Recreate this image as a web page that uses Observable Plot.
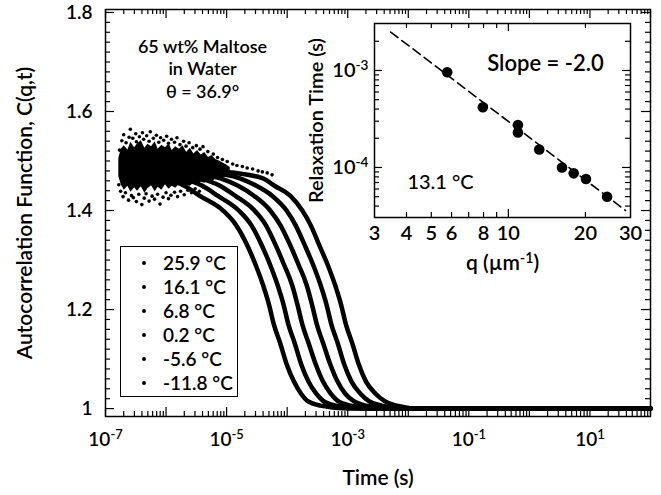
<!DOCTYPE html>
<html>
<head>
<meta charset="utf-8">
<script src="https://cdn.jsdelivr.net/npm/d3@7"></script>
<script src="https://cdn.jsdelivr.net/npm/@observablehq/plot@0.6"></script>
<style>
  html,body{margin:0;padding:0;background:#fff;}
  #chart{position:relative;width:661px;height:495px;overflow:hidden;font-family:Lato,"Open Sans",sans-serif;color:#000;background:#fff;}
  #chart > svg{position:absolute;}
  #legend{position:absolute;left:120px;top:246px;width:118px;height:151px;border:1.5px solid #000;box-sizing:border-box;background:#fff;font-size:19px;font-weight:600;}
  #legend .row{position:absolute;left:0;height:22px;line-height:22px;white-space:nowrap;}
  #legend .dot{position:absolute;left:21px;top:9px;width:4px;height:4px;border-radius:50%;background:#000;}
  #legend .lab{position:absolute;left:42px;top:0;}
</style>
</head>
<body>
<div id="chart"></div>
<script>
// ---------------- data ----------------
const seriesNames = ["25.9 °C", "16.1 °C", "6.8 °C", "0.2 °C", "-5.6 °C", "-11.8 °C"];

// C(q,t) levels at which each curve was read (last entry: end of the record at 100 s)
const levelC = [1.478, 1.465, 1.45, 1.43, 1.40, 1.37, 1.33, 1.29, 1.25, 1.21, 1.17, 1.13, 1.09, 1.055, 1.03, 1.015, 1.006, 1.0, 1.0];

// log10(time / s) at which each series passes the levels above
const logT_25_9  = [-6.70, -6.05, -5.70, -5.45, -5.06, -4.84, -4.66, -4.52, -4.40, -4.30, -4.22, -4.11, -4.01, -3.89, -3.77, -3.66, -3.45, -3.00, 2];
const logT_16_1  = [-6.36, -5.73, -5.40, -5.15, -4.80, -4.59, -4.42, -4.28, -4.16, -4.06, -3.98, -3.87, -3.77, -3.65, -3.52, -3.40, -3.20, -2.76, 2];
const logT_6_8   = [-6.03, -5.42, -5.11, -4.86, -4.54, -4.35, -4.19, -4.05, -3.92, -3.83, -3.75, -3.64, -3.53, -3.41, -3.28, -3.16, -2.95, -2.53, 2];
const logT_0_2   = [-5.69, -5.10, -4.81, -4.55, -4.28, -4.11, -3.95, -3.81, -3.68, -3.59, -3.51, -3.40, -3.29, -3.17, -3.04, -2.90, -2.70, -2.29, 2];
const logT_m5_6  = [-5.35, -4.78, -4.51, -4.25, -4.01, -3.86, -3.71, -3.57, -3.45, -3.35, -3.27, -3.16, -3.06, -2.94, -2.79, -2.65, -2.44, -2.05, 2];
const logT_m11_8 = [-5.01, -4.40, -4.21, -3.95, -3.75, -3.61, -3.47, -3.33, -3.21, -3.11, -3.03, -2.92, -2.82, -2.70, -2.54, -2.39, -2.19, -1.81, 2];

// early-time overlapping noisy cloud (all series): ragged envelope of its dense core
const cloudLogT = [-6.78,-6.74,-6.69,-6.63,-6.58,-6.52,-6.47,-6.41,-6.35,-6.30,-6.24,-6.18,-6.13,-6.07,-6.01,-5.95,-5.90,-5.84,-5.78,-5.72,-5.66,-5.60,-5.54,-5.48,-5.42,-5.36,-5.30,-5.24,-5.18,-5.12,-5.06,-5.00,-4.94];
const cloudHi   = [1.505,1.524,1.531,1.522,1.538,1.527,1.535,1.541,1.526,1.534,1.529,1.539,1.524,1.532,1.527,1.535,1.521,1.529,1.524,1.531,1.517,1.526,1.514,1.521,1.512,1.517,1.507,1.511,1.503,1.500,1.496,1.492,1.487];
const cloudLo   = [1.468,1.452,1.441,1.449,1.437,1.446,1.439,1.448,1.435,1.444,1.450,1.438,1.447,1.441,1.452,1.443,1.449,1.445,1.453,1.446,1.451,1.449,1.455,1.452,1.457,1.455,1.460,1.458,1.463,1.462,1.466,1.467,1.470];

// scattered points around the noisy region
const scatterLogT = [
  -6.77,-6.73,-6.70,-6.66,-6.61,-6.59,-6.55,-6.50,-6.49,-6.44,-6.39,-6.37,-6.32,-6.28,-6.26,-6.21,-6.16,-6.12,-6.09,-6.04,-5.99,-5.96,-5.91,-5.86,-5.82,-5.77,-5.71,-5.67,-5.62,-5.56,-5.50,-5.44,-5.39,-5.31,-5.22,-5.15,-5.07,-4.99,-4.90,-4.83,-4.74,-4.66,-4.57,-4.48,-4.41,-4.33,-4.25,
  -6.78,-6.75,-6.71,-6.67,-6.62,-6.57,-6.54,-6.49,-6.45,-6.40,-6.36,-6.33,-6.28,-6.23,-6.19,-6.14,-6.10,-6.05,-6.00,-5.96,-5.92,-5.86,-5.81,-5.76,-5.70,-5.64,-5.58,-5.52,-5.45,-5.38,-5.31];
const scatterC = [
  1.522,1.541,1.553,1.537,1.548,1.564,1.546,1.555,1.539,1.549,1.557,1.544,1.551,1.540,1.559,1.546,1.552,1.538,1.547,1.542,1.550,1.536,1.544,1.538,1.547,1.533,1.540,1.530,1.537,1.527,1.531,1.524,1.529,1.519,1.514,1.507,1.503,1.499,1.494,1.491,1.489,1.486,1.484,1.480,1.478,1.476,1.472,
  1.452,1.439,1.428,1.436,1.421,1.430,1.426,1.418,1.433,1.412,1.425,1.434,1.419,1.429,1.423,1.433,1.413,1.427,1.436,1.424,1.431,1.437,1.428,1.439,1.432,1.441,1.436,1.444,1.439,1.447,1.444];

// inset: relaxation time vs q at 13.1 °C
const qValues   = [5.77, 7.95, 10.9, 10.9, 13.2, 16.2, 18.0, 20.1, 24.3];
const tauValues = [9.6e-4, 4.17e-4, 2.74e-4, 2.30e-4, 1.53e-4, 1.0e-4, 8.7e-5, 7.6e-5, 5.0e-5];
const fitQ   = [3.47, 28.7];
const fitTau = [2.49e-3, 3.6e-5];

// tick labels
const xLabelTicks = [1e-7, 1e-5, 1e-3, 1e-1, 1e1];
const yLabelTicks = [1, 1.2, 1.4, 1.6, 1.8];
const qLabelTicks = [3, 4, 5, 6, 8, 10, 20, 30];
const tauLabelTicks = [1e-4, 1e-3];

// ---------------- build ----------------
const logTimes = [logT_25_9, logT_16_1, logT_6_8, logT_0_2, logT_m5_6, logT_m11_8];
const curveRows = seriesNames.flatMap((name, i) => logTimes[i].map((lt, j) => ({series: name, t: Math.pow(10, lt), c: levelC[j]})));
const cloudRows = cloudLogT.map((lt, i) => ({t: Math.pow(10, lt), lo: cloudLo[i], hi: cloudHi[i]}));
const scatterRows = scatterLogT.map((lt, i) => ({t: Math.pow(10, lt), c: scatterC[i]}));
const pointRows = qValues.map((q, i) => ({q, tau: tauValues[i]}));
const fitRows = fitQ.map((q, i) => ({q, tau: fitTau[i]}));

const xMajor = d3.range(-7, 3).map(e => Math.pow(10, e));
const xMinor = d3.range(-7, 2).flatMap(e => d3.range(2, 10).map(m => m * Math.pow(10, e)));
const yMajor = yLabelTicks;
const yMinor = d3.range(51, 90).filter(k => k % 10 !== 0).map(k => k / 50);

const qMajor = [10];
const qMinor = [4, 5, 6, 7, 8, 9, 20];
const tauMajor = [1e-4, 1e-3];
const tauMinor = [4e-5,5e-5,6e-5,7e-5,8e-5,9e-5,2e-4,3e-4,4e-4,5e-4,6e-4,7e-4,8e-4,9e-4,2e-3];

const font = "Lato, 'Open Sans', sans-serif";
const expFmt = d => "10^" + Math.round(Math.log10(d));

function ticksAround(FW, FH, xs, ys, len) {
  const o = {stroke: "#000", strokeWidth: 1.2};
  return [
    Plot.tickX(xs, {x: d => d, insetTop: FH - len, ...o}),
    Plot.tickX(xs, {x: d => d, insetBottom: FH - len, ...o}),
    Plot.tickY(ys, {y: d => d, insetRight: FW - len, ...o}),
    Plot.tickY(ys, {y: d => d, insetLeft: FW - len, ...o})
  ];
}

const FW = 661 - 105 - 11, FH = 495 - 9 - 79;
const main = Plot.plot({
  width: 661, height: 495,
  marginLeft: 105, marginRight: 11, marginTop: 9, marginBottom: 79,
  style: {fontFamily: font, fontSize: "19px", fontWeight: 600, background: "transparent", overflow: "visible", color: "#000"},
  x: {type: "log", domain: [1e-7, 1e2], ticks: xLabelTicks, tickFormat: expFmt, tickSize: 0, tickPadding: 16, label: null},
  y: {domain: [0.984, 1.806], ticks: yLabelTicks, tickFormat: d => d === 1 ? "1" : d.toFixed(1), tickSize: 0, tickPadding: 13, label: null},
  marks: [
    Plot.areaY(cloudRows, {x: "t", y1: "lo", y2: "hi", fill: "#000", curve: "linear"}),
    Plot.dot(scatterRows, {x: "t", y: "c", r: 1.8, fill: "#000"}),
    Plot.line(curveRows, {x: "t", y: "c", z: "series", stroke: "#000", strokeWidth: 4.5, curve: "monotone-x"}),
    ...ticksAround(FW, FH, xMajor, yMajor, 9),
    ...ticksAround(FW, FH, xMinor, yMinor, 5),
    Plot.frame({stroke: "#000", strokeWidth: 1.5}),
    Plot.text(["65 wt% Maltose\nin Water\nθ = 36.9°"], {text: d => d, frameAnchor: "top-left", textAnchor: "middle", lineAnchor: "middle", dx: 97, dy: 58.5, fontSize: 18, fontWeight: 600, lineHeight: 1.25, fill: "#000"}),
    Plot.text(["Time (s)"], {text: d => d, frameAnchor: "bottom", textAnchor: "middle", lineAnchor: "middle", dy: 62, fontSize: 21, fontWeight: 600, fill: "#000"}),
    Plot.text(["Autocorrelation Function, C(q,t)"], {text: d => d, frameAnchor: "left", textAnchor: "middle", lineAnchor: "middle", dx: -80, rotate: -90, fontSize: 21, fontWeight: 600, fill: "#000"})
  ]
});
main.style.left = "0px"; main.style.top = "0px";

const IW = 350, IH = 265, IL = 84, IR = 10, IT = 10, IB = 61;
const IFW = IW - IL - IR, IFH = IH - IT - IB;
const inset = Plot.plot({
  width: IW, height: IH,
  marginLeft: IL, marginRight: IR, marginTop: IT, marginBottom: IB,
  style: {fontFamily: font, fontSize: "20px", fontWeight: 600, background: "transparent", overflow: "visible", color: "#000"},
  x: {type: "log", domain: [3, 30], ticks: qLabelTicks, tickFormat: d => String(d), tickSize: 0, tickPadding: 8, label: null},
  y: {type: "log", domain: [3.05e-5, 3.05e-3], ticks: tauLabelTicks, tickFormat: expFmt, tickSize: 0, tickPadding: 6, label: null},
  marks: [
    Plot.line(fitRows, {x: "q", y: "tau", stroke: "#000", strokeWidth: 1.6, strokeDasharray: "9,5"}),
    Plot.dot(pointRows, {x: "q", y: "tau", r: 5.3, fill: "#000"}),
    ...ticksAround(IFW, IFH, qMajor, tauMajor, 8),
    ...ticksAround(IFW, IFH, qMinor, tauMinor, 5),
    Plot.frame({stroke: "#000", strokeWidth: 1.5}),
    Plot.text(["Slope = -2.0"], {text: d => d, frameAnchor: "top-left", textAnchor: "middle", lineAnchor: "middle", dx: 171, dy: 40, fontSize: 22, fontWeight: 600, fill: "#000"}),
    Plot.text(["13.1 °C"], {text: d => d, frameAnchor: "top-left", textAnchor: "middle", lineAnchor: "middle", dx: 66, dy: 159, fontSize: 20, fontWeight: 500, fill: "#000"}),
    Plot.text(["q (µm^-1)"], {text: d => d, frameAnchor: "bottom", textAnchor: "middle", lineAnchor: "middle", dy: 46, fontSize: 21, fontWeight: 600, fill: "#000"}),
    Plot.text(["Relaxation Time (s)"], {text: d => d, frameAnchor: "left", textAnchor: "middle", lineAnchor: "middle", dx: -58, rotate: -90, fontSize: 20, fontWeight: 600, fill: "#000"})
  ]
});
inset.style.left = "290px"; inset.style.top = "13px";

// superscripts: "base^exp rest"
function supify(svg) {
  const NS = "http://www.w3.org/2000/svg";
  svg.querySelectorAll("text").forEach(t => {
    if (t.querySelector("tspan")) return;
    const m = (t.textContent || "").match(/^(.*?)\^(-?\d+)(.*)$/);
    if (!m) return;
    t.textContent = m[1];
    const sup = document.createElementNS(NS, "tspan");
    sup.setAttribute("dy", "-7");
    sup.setAttribute("font-size", "0.68em");
    sup.textContent = m[2];
    t.appendChild(sup);
    if (m[3]) {
      const rest = document.createElementNS(NS, "tspan");
      rest.setAttribute("dy", "7");
      rest.textContent = m[3];
      t.appendChild(rest);
    }
  });
}
supify(main); supify(inset);

const chart = document.getElementById("chart");
chart.appendChild(main);
chart.appendChild(inset);

// legend
const legend = document.createElement("div");
legend.id = "legend";
seriesNames.forEach((name, i) => {
  const row = document.createElement("div");
  row.className = "row";
  row.style.top = (5 + i * 23.9) + "px";
  row.innerHTML = '<span class="dot"></span><span class="lab"></span>';
  row.querySelector(".lab").textContent = name;
  legend.appendChild(row);
});
chart.appendChild(legend);
</script>
</body>
</html>
